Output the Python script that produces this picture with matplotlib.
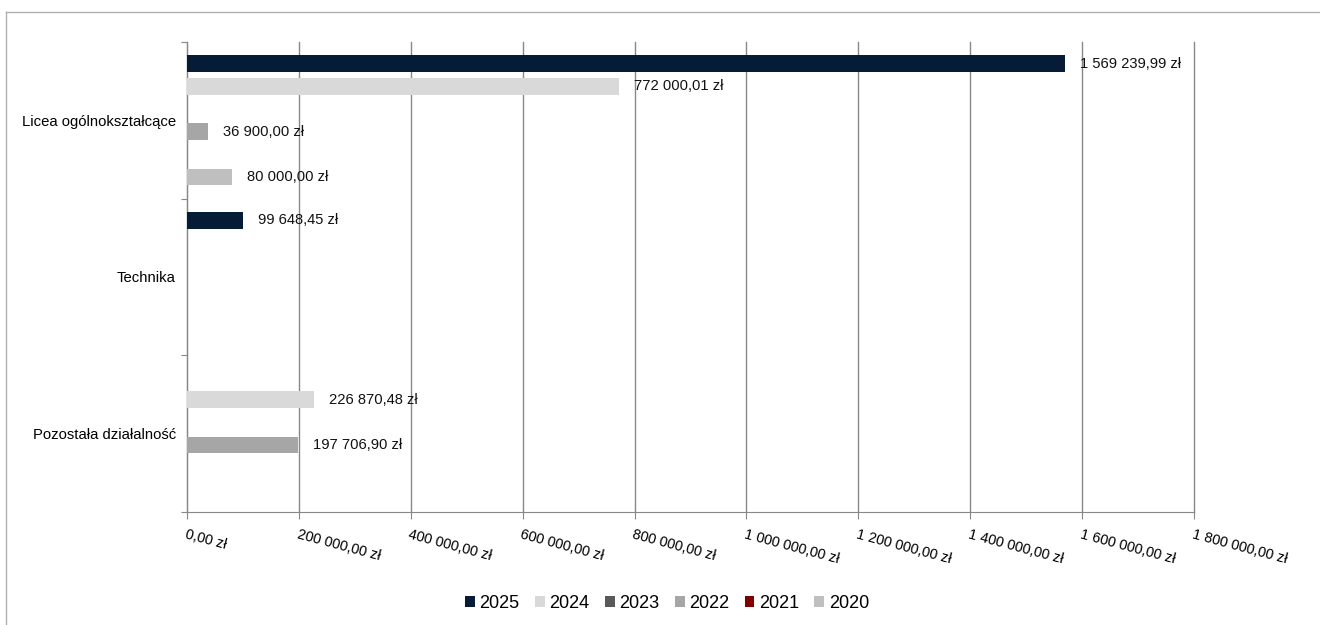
import numpy as np
import matplotlib.pyplot as plt
from matplotlib.lines import Line2D
from matplotlib.patches import Patch

plt.rcParams['font.family'] = ['Liberation Sans', 'DejaVu Sans']

# data (None = no bar)
categories = ['Licea ogólnokształcące', 'Technika', 'Pozostała działalność']
years = ['2025', '2024', '2023', '2022', '2021', '2020']
v2025 = [1569239.99, 99648.45, None]
v2024 = [772000.01, None, 226870.48]
v2023 = [None, None, None]
v2022 = [36900.00, None, 197706.90]
v2021 = [None, None, None]
v2020 = [80000.00, None, None]
series = [v2025, v2024, v2023, v2022, v2021, v2020]
colors = ['#061b36', '#d9d9d9', '#595959', '#a6a6a6', '#800000', '#bfbfbf']

x_ticks = np.arange(0, 1800001, 200000)


def pln(v):
    s = f'{v:,.2f}'.replace(',', ' ').replace('.', ',')
    return s + ' zł'


fig = plt.figure(figsize=(13.2, 6.25), dpi=100)
ax = fig.add_axes([187 / 1320, 113 / 625, 1007 / 1320, 470 / 625])

# outer chart frame (top and left edges visible)
fig.add_artist(Line2D([6 / 1320, 1], [1 - 12 / 625] * 2, color='#b0b0b0', lw=1))
fig.add_artist(Line2D([6 / 1320] * 2, [0, 1 - 12 / 625], color='#b0b0b0', lw=1))

slot = 0.1446
bar_h = 0.108
y = np.arange(len(categories))
for j, (vals, col) in enumerate(zip(series, colors)):
    off = (j - 2.5) * slot
    for i, v in enumerate(vals):
        if v is None:
            continue
        ax.barh(y[i] + off, v, height=bar_h, color=col, zorder=3)
        ax.annotate(pln(v), (v, y[i] + off), xytext=(11, 0), textcoords='offset points',
                    ha='left', va='center', fontsize=10.6, color='#111111', zorder=4)

ax.set_xlim(0, 1800000)
ax.set_ylim(2.5, -0.5)
ax.set_xticks(x_ticks)
ax.set_xticklabels([pln(t) for t in x_ticks], rotation=-15, ha='left', va='top',
                   rotation_mode='anchor', fontsize=10.4)
ax.set_yticks([-0.5, 0.5, 1.5, 2.5])
ax.set_yticklabels([])
ax.set_yticks(y, minor=True)
ax.set_yticklabels(categories, minor=True, fontsize=10.7)
ax.tick_params(axis='y', which='minor', length=0, pad=8)
ax.tick_params(axis='y', which='major', length=4, color='#888888')
ax.tick_params(axis='x', length=5, color='#888888', pad=6)

ax.grid(axis='x', color='#888888', lw=1, zorder=0)
for gl in ax.get_xgridlines():
    gl.set_clip_on(False)
for s in ['top', 'right']:
    ax.spines[s].set_visible(False)
for s in ['left', 'bottom']:
    ax.spines[s].set_color('#888888')

handles = [Patch(facecolor=c, label=l) for c, l in zip(colors, years)]
fig.legend(handles=handles, loc='center', bbox_to_anchor=(667 / 1320, 1 - 603 / 625),
           ncol=6, frameon=False, fontsize=13, handlelength=0.55, handleheight=0.55,
           handletextpad=0.25, columnspacing=0.85)

fig.savefig('out.png', dpi=100)
